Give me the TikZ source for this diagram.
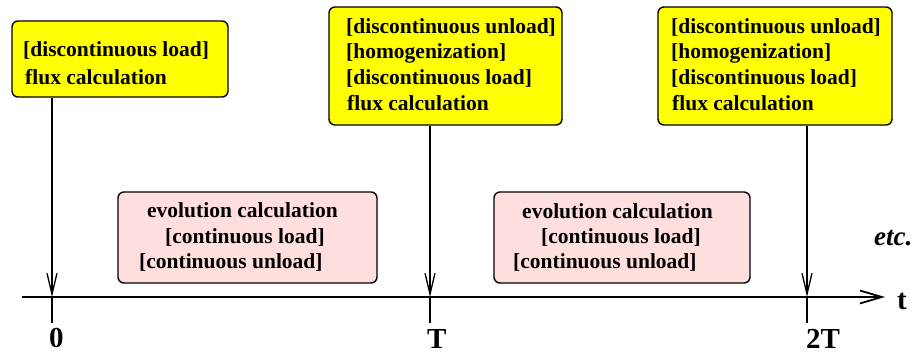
\documentclass[tikz,border=0pt]{standalone}
\usepackage{fontspec}
\setmainfont{Liberation Serif}
\usetikzlibrary{arrows.meta}
\definecolor{boxyellow}{RGB}{255,255,0}
\definecolor{boxpink}{RGB}{255,222,222}
\begin{document}
\begin{tikzpicture}[x=1pt,y=-1pt,
  ybox/.style={draw=black, line width=1.4pt, fill=boxyellow, rounded corners=6pt, inner sep=0pt},
  pbox/.style={draw=black, line width=1.4pt, fill=boxpink, rounded corners=6pt, inner sep=0pt},
  txt/.style={anchor=base west, inner sep=0pt, font=\fontsize{21.5}{26}\selectfont\bfseries},
  lbl/.style={anchor=base west, inner sep=0pt, font=\fontsize{29}{34}\selectfont\bfseries},
  conn/.style={line width=1.3pt, -{Straight Barb[length=21pt,width=10pt]}},
  tickline/.style={line width=1.3pt},
  axisline/.style={line width=1.8pt, -{Straight Barb[length=22pt,width=13pt]}}]
\useasboundingbox (0,0) rectangle (919,354);
% boxes
\node[ybox, minimum width=216pt, minimum height=76pt] (b1) at (120,59) {};
\node[ybox, minimum width=233pt, minimum height=118pt] (b2) at (445.5,66) {};
\node[ybox, minimum width=234pt, minimum height=118pt] (b3) at (775,66) {};
\node[pbox, minimum width=259pt, minimum height=91pt] (p1) at (247.5,237.5) {};
\node[pbox, minimum width=256pt, minimum height=91pt] (p2) at (622,237.5) {};
% texts of box 1
\node[txt] (b1l1) at (23,56) {[discontinuous load]};
\node[txt] (b1l2) at (25,84) {flux calculation};
% box 2
\node[txt] (b2l1) at (346,33) {[discontinuous unload]};
\node[txt] (b2l2) at (346,58) {[homogenization]};
\node[txt] (b2l3) at (346,84) {[discontinuous load]};
\node[txt] (b2l4) at (347,110) {flux calculation};
% box 3
\node[txt] (b3l1) at (671,33) {[discontinuous unload]};
\node[txt] (b3l2) at (671,58) {[homogenization]};
\node[txt] (b3l3) at (671,84) {[discontinuous load]};
\node[txt] (b3l4) at (672,110) {flux calculation};
% pink 1
\node[txt] (p1l1) at (147,217) {evolution calculation};
\node[txt] (p1l2) at (165,243) {[continuous load]};
\node[txt] (p1l3) at (139,268) {[continuous unload]};
% pink 2
\node[txt] (p2l1) at (522,218) {evolution calculation};
\node[txt] (p2l2) at (541,243) {[continuous load]};
\node[txt] (p2l3) at (513,268) {[continuous unload]};
% axis
\coordinate (ax0) at (22,297);
\coordinate (ax1) at (885,297);
\draw[axisline] (ax0) -- (ax1);
\node[lbl] (tl) at (897,309) {t};
\node[anchor=base west, inner sep=0pt, font=\fontsize{27}{32}\selectfont\bfseries\itshape] (etc) at (874,245) {etc.};
% ticks
\coordinate (t0) at (52,297);
\coordinate (t0b) at (52,323);
\coordinate (t1) at (430,297);
\coordinate (t1b) at (430,323);
\coordinate (t2) at (807,297);
\coordinate (t2b) at (807,323);
\draw[tickline] (t0) -- (t0b);
\draw[tickline] (t1) -- (t1b);
\draw[tickline] (t2) -- (t2b);
\node[lbl] (l0) at (49,347) {0};
\node[lbl] (l1) at (427,348) {T};
\node[lbl] (l2) at (806,348) {2T};
% connectors
\draw[conn] (b1.south -| t0) -- (t0);
\draw[conn] (b2.south -| t1) -- (t1);
\draw[conn] (b3.south -| t2) -- (t2);
\end{tikzpicture}
\end{document}
